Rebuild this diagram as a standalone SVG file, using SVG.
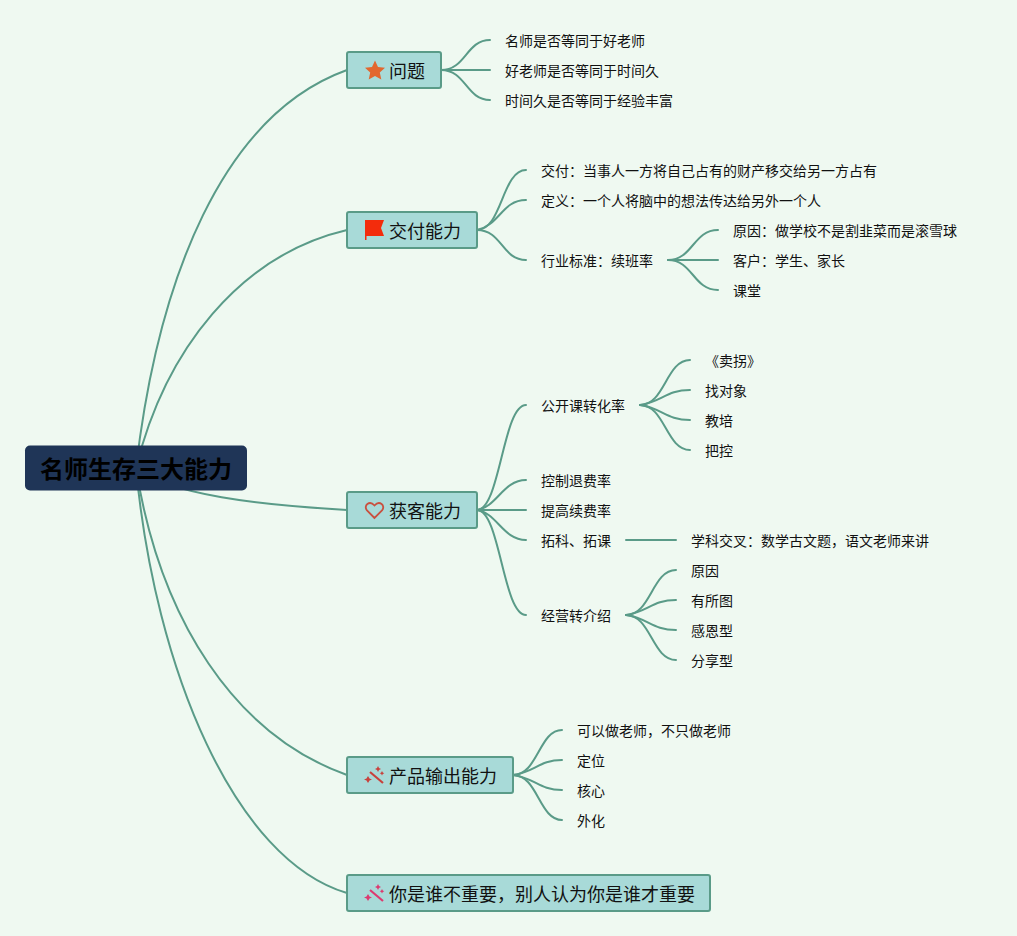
<svg xmlns="http://www.w3.org/2000/svg" width="1017" height="936" viewBox="0 0 1017 936">
<style>
text{font-family:"Noto Sans CJK SC","Liberation Sans",sans-serif;fill:#111}
.t{font-size:14px}
.m{font-size:18px}
.r{font-size:24px;font-weight:700;fill:#000}
.b{fill:#a8dad8;stroke:#5a9b88;stroke-width:2}
#connectors path{fill:none;stroke:#5a9b88;stroke-width:2;stroke-linecap:round}
</style>
<rect width="1017" height="936" fill="#eff9f1"/>
<g id="connectors">
<path d="M136 468C158 280 222 115 347 70"/>
<path d="M136 468C165 350 240 255 347 230"/>
<path d="M136 468C170 495 260 505 347 510"/>
<path d="M136 468C160 620 235 735 347 775"/>
<path d="M136 468C155 670 235 860 347 893"/>
<path d="M441 70C466 70 466 40 490 40"/>
<path d="M441 70H490"/>
<path d="M441 70C466 70 466 100 490 100"/>
<path d="M477 230C502 230 502 170 526 170"/>
<path d="M477 230C500 225 502 200 526 200"/>
<path d="M477 230C502 230 502 260 526 260"/>
<path d="M668 260C693 260 693 230 718 230"/>
<path d="M668 260H718"/>
<path d="M668 260C693 260 693 290 718 290"/>
<path d="M477 510C500 510 503 405 526 405"/>
<path d="M477 510C497 507 503 480 526 480"/>
<path d="M477 510H526"/>
<path d="M477 510C497 513 503 540 526 540"/>
<path d="M477 510C500 510 503 615 526 615"/>
<path d="M640 405C665 405 666 360 690 360"/>
<path d="M640 405C662 402 666 390 690 390"/>
<path d="M640 405C662 408 666 420 690 420"/>
<path d="M640 405C665 405 666 450 690 450"/>
<path d="M626 540H676"/>
<path d="M626 615C651 615 652 570 676 570"/>
<path d="M626 615C648 612 652 600 676 600"/>
<path d="M626 615C648 618 652 630 676 630"/>
<path d="M626 615C651 615 652 660 676 660"/>
<path d="M513 775C538 775 539 730 562 730"/>
<path d="M513 775C535 772 539 760 562 760"/>
<path d="M513 775C535 778 539 790 562 790"/>
<path d="M513 775C538 775 539 820 562 820"/>
</g>
<g id="root"><rect x="25" y="445.500" width="222" height="45" rx="5" fill="#1f3557"/><text class="r" x="40" y="478">名师生存三大能力</text></g>
<g id="n1"><rect class="b" x="347" y="52" width="94" height="36" rx="2"/><path d="M375 60.500l3 6.500 7 .8-5.200 4.800 1.500 7-6.300-3.600-6.300 3.600 1.500-7-5.200-4.800 7-.8z" fill="#e2672f"/><text class="m" x="389" y="77.500">问题</text></g>
<g id="n2"><rect class="b" x="347" y="212" width="130" height="36" rx="2"/><path d="M365 240V220H384L381 228L384 236H366.500V240z" fill="#f32c0c"/><text class="m" x="389" y="237.500">交付能力</text></g>
<g id="n3"><rect class="b" x="347" y="492" width="130" height="36" rx="2"/><path d="M374.500 518l-7.500-7.500c-4-5 2.500-10.500 7.500-5 5-5.500 11.500 0 7.500 5z" fill="none" stroke="#c9503f" stroke-width="1.800"/><text class="m" x="389" y="517.500">获客能力</text></g>
<g id="n4"><rect class="b" x="347" y="757" width="166" height="36" rx="2"/><path d="M370 772L383 783" stroke="#c8413c" stroke-width="2.200"/><path d="M368 776l1.500 2.500 2.500 1-2.500 1-1.500 2.500-1.500-2.500-2.500-1 2.500-1zM378 766l1 2 2 1-2 1-1 2-1-2-2-1 2-1zM382 771l.8 1.500 1.500.8-1.500.8-.8 1.500-.8-1.500-1.500-.8 1.500-.8z" fill="#c8413c"/><text class="m" x="389" y="782.500">产品输出能力</text></g>
<g id="n5"><rect class="b" x="347" y="875" width="363" height="36" rx="2"/><path d="M370 890L383 901" stroke="#dd3a70" stroke-width="2.200"/><path d="M368 894l1.500 2.500 2.500 1-2.500 1-1.500 2.500-1.500-2.500-2.500-1 2.500-1zM378 884l1 2 2 1-2 1-1 2-1-2-2-1 2-1zM382 889l.8 1.500 1.500.8-1.500.8-.8 1.500-.8-1.500-1.500-.8 1.500-.8z" fill="#dd3a70"/><text class="m" x="389" y="900.500">你是谁不重要，别人认为你是谁才重要</text></g>
<g id="l1"><text class="t" x="505" y="46">名师是否等同于好老师</text></g>
<g id="l2"><text class="t" x="505" y="76">好老师是否等同于时间久</text></g>
<g id="l3"><text class="t" x="505" y="106">时间久是否等同于经验丰富</text></g>
<g id="l4"><text class="t" x="541" y="176">交付：当事人一方将自己占有的财产移交给另一方占有</text></g>
<g id="l5"><text class="t" x="541" y="206">定义：一个人将脑中的想法传达给另外一个人</text></g>
<g id="l6"><text class="t" x="541" y="266">行业标准：续班率</text></g>
<g id="l7"><text class="t" x="733" y="236">原因：做学校不是割韭菜而是滚雪球</text></g>
<g id="l8"><text class="t" x="733" y="266">客户：学生、家长</text></g>
<g id="l9"><text class="t" x="733" y="296">课堂</text></g>
<g id="l10"><text class="t" x="541" y="411">公开课转化率</text></g>
<g id="l11"><text class="t" x="705" y="366">《卖拐》</text></g>
<g id="l12"><text class="t" x="705" y="396">找对象</text></g>
<g id="l13"><text class="t" x="705" y="426">教培</text></g>
<g id="l14"><text class="t" x="705" y="456">把控</text></g>
<g id="l15"><text class="t" x="541" y="486">控制退费率</text></g>
<g id="l16"><text class="t" x="541" y="516">提高续费率</text></g>
<g id="l17"><text class="t" x="541" y="546">拓科、拓课</text></g>
<g id="l18"><text class="t" x="691" y="546">学科交叉：数学古文题，语文老师来讲</text></g>
<g id="l19"><text class="t" x="541" y="621">经营转介绍</text></g>
<g id="l20"><text class="t" x="691" y="576">原因</text></g>
<g id="l21"><text class="t" x="691" y="606">有所图</text></g>
<g id="l22"><text class="t" x="691" y="636">感恩型</text></g>
<g id="l23"><text class="t" x="691" y="666">分享型</text></g>
<g id="l24"><text class="t" x="577" y="736">可以做老师，不只做老师</text></g>
<g id="l25"><text class="t" x="577" y="766">定位</text></g>
<g id="l26"><text class="t" x="577" y="796">核心</text></g>
<g id="l27"><text class="t" x="577" y="826">外化</text></g>
</svg>
